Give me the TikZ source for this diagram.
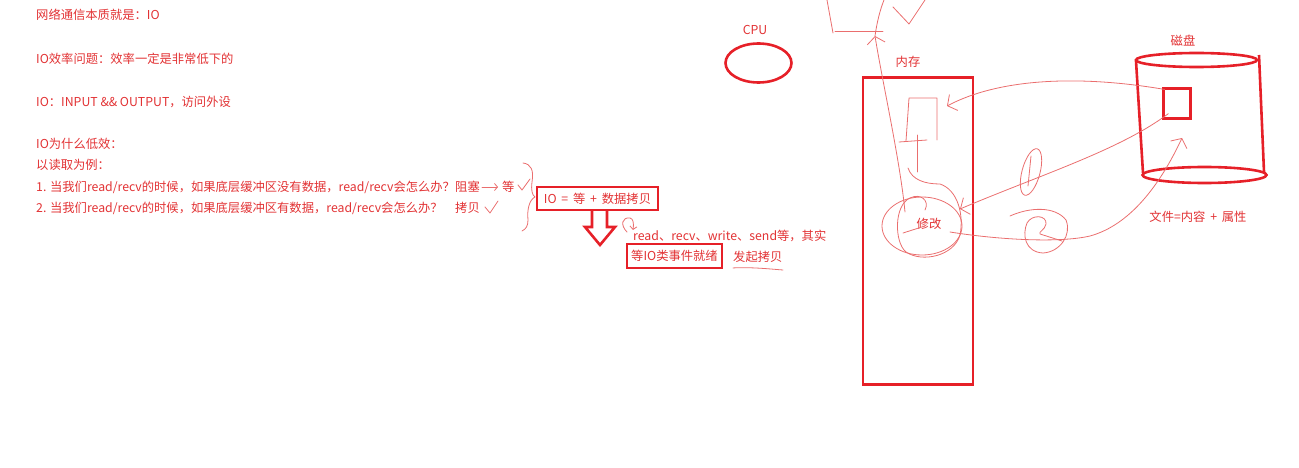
\documentclass[tikz,border=0pt]{standalone}
\usepackage{fontspec}
\newfontfamily\cjk{Noto Sans CJK SC}
\usetikzlibrary{arrows.meta,shapes.geometric}
\definecolor{boxred}{RGB}{230,32,40}
\definecolor{txtred}{RGB}{226,50,52}
\definecolor{penred}{RGB}{234,110,110}
\newcommand\txtfont{\cjk\fontsize{12.3}{14}\selectfont}
\tikzset{
  txt/.style={anchor=west,inner sep=0pt,text=txtred,font=\txtfont},
  label txt/.style={inner sep=0pt,text=txtred,font=\txtfont},
  redbox/.style={draw=boxred,line width=2.6pt},
  pen/.style={draw=penred,line width=0.8pt,line cap=round,line join=round},
  pentip/.style={-{Straight Barb[length=7pt,width=18pt]}},
  smalltip/.style={-{Straight Barb[length=3pt,width=7pt]}}
}

\begin{document}
\begin{tikzpicture}[x=1pt,y=-1pt]
  \useasboundingbox (0,0) rectangle (1299,468);

  \node[txt] (l1) at (36,15) {网络通信本质就是：IO};
  \node[txt] (l2) at (36,59) {IO效率问题：效率一定是非常低下的};
  \node[txt] (l3) at (36,102) {IO：INPUT \&\& OUTPUT，访问外设};
  \node[txt] (l4) at (36,144) {IO为什么低效：};
  \node[txt] (l5) at (36,165) {以读取为例：};
  \node[txt] (q1) at (36,187) {1. 当我们read/recv的时候，如果底层缓冲区没有数据，read/recv会怎么办？};
  \node[txt] (zuse) at (455,187) {阻塞};
  \node[txt] (deng) at (502,187) {等};
  \node[txt] (q2) at (36,208) {2. 当我们read/recv的时候，如果底层缓冲区有数据，read/recv会怎么办？};
  \node[txt] (kaobei) at (455,208) {拷贝};

  \draw[pen,smalltip] (zuse.east) ++(2,0) -- ([xshift=-4pt]deng.west);
  \draw[pen] (518,185) -- (522,190) -- (530,179);
  \draw[pen] (485,207) -- (490,213) -- (498,201);
  \draw[pen] (523,163) .. controls (531,164) and (534,170) .. (532,182)
    .. controls (531,190) and (532,195) .. (535,197)
    .. controls (529,200) and (527,210) .. (528,220)
    .. controls (528,226) and (526,229) .. (522,231);

  \node[redbox,label txt,minimum width=121pt,minimum height=23pt] (eq) at (597.5,198.5) {IO\,\ =\ \,等\ \,+\ \,数据拷贝};
  \draw[redbox,line join=miter] (592,210) -- (592,227) -- (585,227) -- (600,245)
    -- (615,227) -- (607,227) -- (607,210);

  \node[txt] (rw) at (633,236) {read、recv、write、send等，其实};
  \node[redbox,label txt,minimum width=95pt,minimum height=24pt] (ready) at (674.5,256) {等IO类事件就绪};
  \node[txt] (start) at (733,257) {发起拷贝};
  \draw[pen,smalltip] (627,232) .. controls (620,225) and (622,217) .. (630,218)
    .. controls (633,219) and (634,222) .. (rw.north west);
  \draw[pen] (start.south west) ++(0,5) .. controls (752,267) and (770,269) .. (783,270);

  \node[label txt] (cpulbl) at (755,30) {CPU};
  \node[redbox,ellipse,minimum width=66pt,minimum height=39pt] (cpu) at (758.5,63) {};

  \node[label txt] (memlbl) at (908,62) {内存};
  \node[redbox,minimum width=110pt,minimum height=307pt,inner sep=0pt] (mem) at (918,231) {};

  \node[label txt] (disklbl) at (1183,41) {磁盘};
  \draw[redbox] (1196.5,60) ellipse [x radius=60.5, y radius=7];
  \draw[redbox] (1204.5,175) ellipse [x radius=62, y radius=8];
  \draw[redbox] (1136,61) -- (1143,173);
  \draw[redbox] (1259,55) -- (1264,172);
  \node[draw=boxred,line width=2.2pt,minimum width=27pt,minimum height=30pt,inner sep=0pt] (blk) at (1177,103.5) {};
  \node[label txt] (file) at (1198,217) {文件=内容\ \,+\ \,属性};

  \node[label txt] (edit) at (929,224) {修改};
  \coordinate (top) at (875,36);
  \coordinate (memin) at (947,106);

  \draw[pen] (827,0) -- (833,33);
  \draw[pen] (835,31) -- (883,31);
  \draw[pen] (893,7) -- (909,24) -- (925,0);
  \draw[pen,pentip] (905,212) .. controls (900,160) and (882,80) .. (top);
  \draw[pen] (top) .. controls (877,22) and (880,10) .. (884,0);

  \draw[pen] (906,141) -- (909,98) -- (937,98) -- (937,140);
  \draw[pen] (899,142) -- (927,140);
  \draw[pen] (917,135) -- (917,172);

  \draw[pen] (922,226) ellipse [x radius=40, y radius=29];
  \draw[pen] (908,168) .. controls (912,180) and (925,184) .. (940,184)
    .. controls (958,190) and (964,215) .. (960,235)
    .. controls (954,256) and (922,263) .. (906,252)
    .. controls (894,242) and (894,205) .. (910,198)
    .. controls (920,193) and (930,200) .. (925,210);
  \draw[pen] (903,233) -- (925,226);

  \draw[pen,pentip] (blk.north west) ++(2,2) .. controls (1080,75) and (1000,78) .. (memin);
  \draw[pen,pentip] (blk.south west) ++(6,-6) .. controls (1120,150) and (1040,175) .. (960,209);
  \draw[pen,pentip] (950,232) .. controls (1000,240) and (1060,243) .. (1090,236)
    .. controls (1130,225) and (1160,185) .. (1182,138);

  \draw[pen,rotate around={-15:(1031,172)}] (1031,172) ellipse [x radius=9, y radius=24];
  \draw[pen] (1031,156) -- (1028,186);
  \draw[pen] (1010,216) .. controls (1030,207) and (1055,206) .. (1066,220)
    .. controls (1072,235) and (1060,252) .. (1043,253)
    .. controls (1025,252) and (1022,235) .. (1027,223)
    .. controls (1032,214) and (1047,215) .. (1046,224)
    .. controls (1045,230) and (1038,232) .. (1040,234)
    -- (1062,241);
\end{tikzpicture}
\end{document}
